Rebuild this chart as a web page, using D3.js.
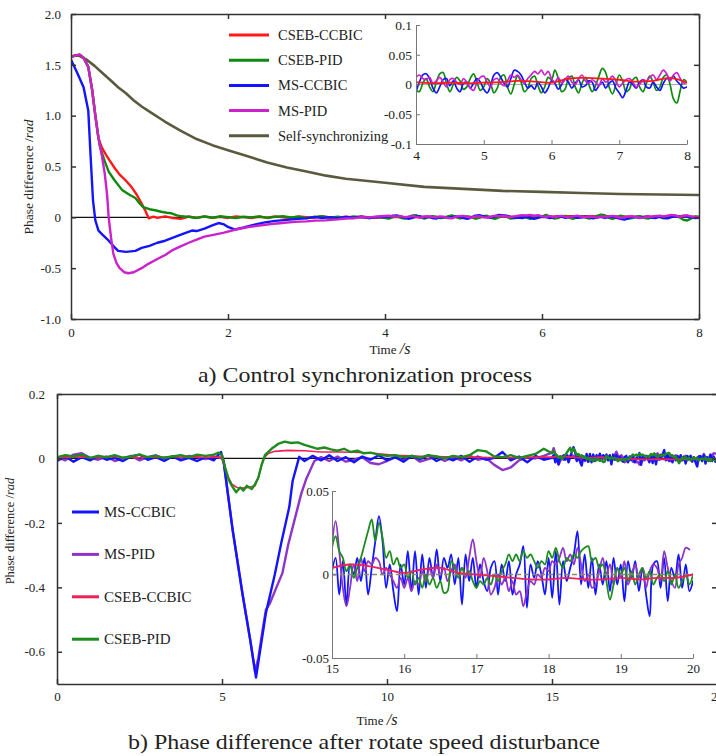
<!DOCTYPE html>
<html>
<head>
<meta charset="utf-8">
<style>
  body { margin: 0; background: #fff; }
  svg text { font-family: "Liberation Serif", "Times New Roman", serif; fill: #222; }
  .frame path, .frame line { stroke: #333; stroke-width: 1.5; }
  .inset path, .inset line { stroke: #777; stroke-width: 1; }
  .curve { fill: none; stroke-linejoin: round; stroke-linecap: round; }
</style>
</head>
<body>
<svg id="chart" width="716" height="756"></svg>
<script src="https://cdnjs.cloudflare.com/ajax/libs/d3/7.8.5/d3.min.js"></script>
<script>
// ---------------- data: panel a (control synchronization) ----------------
const aRed = [[0,1.58],[0.05,1.59],[0.11,1.6],[0.16,1.57],[0.22,1.48],[0.27,1.25],[0.31,1.0],[0.35,0.78],[0.39,0.69],[0.45,0.61],[0.5,0.55],[0.56,0.48],[0.62,0.42],[0.7,0.36],[0.77,0.3],[0.84,0.22],[0.9,0.135],[0.95,0.06],[0.99,-0.01],[1.05,0.006],[1.1,-0.006],[1.2,0.01],[1.3,-0.008],[1.4,-0.015],[1.5,0.008],[1.6,-0.005],[1.7,0.01],[1.8,-0.004],[1.9,0.006],[2.0,-0.006],[2.1,0.008],[2.2,0.002],[2.3,-0.006],[2.4,0.006],[2.5,-0.004],[2.6,0.01],[2.7,0.0],[2.8,-0.006],[2.9,0.008],[3.0,0.002],[3.1,-0.006],[3.2,0.012],[3.3,0.0],[3.4,-0.004],[3.5,0.006],[3.6,-0.002],[3.7,0.008],[3.8,0.0],[3.9,-0.004]];
const aGreen = [[0,1.58],[0.05,1.59],[0.11,1.6],[0.16,1.57],[0.22,1.48],[0.27,1.25],[0.31,1.0],[0.35,0.78],[0.37,0.69],[0.43,0.55],[0.48,0.45],[0.55,0.37],[0.65,0.27],[0.75,0.22],[0.82,0.19],[0.87,0.14],[0.92,0.1],[1.0,0.08],[1.07,0.07],[1.15,0.055],[1.22,0.045],[1.28,0.04],[1.35,0.02],[1.41,0.01],[1.5,0.005],[1.6,-0.006],[1.7,0.008],[1.8,-0.004],[1.9,0.01],[2.0,0.002],[2.1,-0.008],[2.2,0.006],[2.3,0.0],[2.4,0.01],[2.5,-0.006],[2.6,0.004],[2.7,0.012],[2.8,-0.002],[2.9,0.006],[3.0,-0.008],[3.1,0.004],[3.2,0.01],[3.3,-0.004],[3.4,0.006],[3.5,-0.006],[3.6,0.008],[3.7,0.0],[3.8,-0.008],[3.9,0.004]];
const aBlue = [[0,1.55],[0.08,1.42],[0.16,1.28],[0.22,1.05],[0.25,0.6],[0.28,0.17],[0.31,-0.03],[0.35,-0.13],[0.4,-0.17],[0.48,-0.23],[0.55,-0.29],[0.6,-0.33],[0.7,-0.34],[0.82,-0.33],[0.9,-0.3],[1.0,-0.28],[1.1,-0.25],[1.2,-0.23],[1.3,-0.2],[1.4,-0.17],[1.54,-0.13],[1.6,-0.135],[1.7,-0.11],[1.8,-0.08],[1.88,-0.056],[1.95,-0.07],[2.0,-0.095],[2.09,-0.12],[2.2,-0.1],[2.35,-0.07],[2.47,-0.05],[2.6,-0.035],[2.75,-0.025],[2.89,-0.015],[3.0,-0.01],[3.1,0.004],[3.2,-0.006],[3.3,0.002],[3.4,-0.008],[3.5,0.004],[3.6,-0.004],[3.7,0.006],[3.8,-0.006],[3.9,0.002]];
const aMagenta = [[0,1.58],[0.05,1.59],[0.11,1.6],[0.16,1.57],[0.22,1.48],[0.27,1.25],[0.31,1.0],[0.35,0.78],[0.39,0.62],[0.43,0.43],[0.46,0.22],[0.48,0.0],[0.51,-0.2],[0.54,-0.36],[0.58,-0.45],[0.62,-0.5],[0.68,-0.54],[0.73,-0.55],[0.8,-0.54],[0.9,-0.5],[0.98,-0.46],[1.1,-0.41],[1.2,-0.37],[1.3,-0.32],[1.41,-0.28],[1.5,-0.25],[1.6,-0.22],[1.7,-0.19],[1.83,-0.17],[1.95,-0.15],[2.1,-0.12],[2.26,-0.095],[2.4,-0.08],[2.55,-0.065],[2.69,-0.056],[2.85,-0.045],[3.0,-0.04],[3.12,-0.032],[3.24,-0.03],[3.4,-0.02],[3.5,-0.012],[3.6,-0.01],[3.7,0.002],[3.8,0.0],[3.9,0.008]];
const aSelf = [[0,1.58],[0.05,1.59],[0.1,1.59],[0.2,1.55],[0.3,1.49],[0.4,1.42],[0.5,1.35],[0.6,1.28],[0.7,1.22],[0.8,1.15],[0.9,1.09],[1.0,1.04],[1.2,0.94],[1.4,0.85],[1.6,0.77],[1.8,0.71],[2.0,0.66],[2.25,0.6],[2.5,0.54],[2.75,0.49],[3.0,0.45],[3.25,0.41],[3.5,0.38],[4.0,0.34],[4.5,0.3],[5.0,0.28],[5.5,0.26],[6.0,0.25],[6.5,0.24],[7.0,0.23],[7.5,0.225],[8.0,0.22]];

// inset of panel a, 4 - 8 s, 0.05 s apart (red 0.25 s apart)
const aInsetTime = d3.range(81).map(i => 4 + i * 0.05);
const aInsetRedTime = d3.range(17).map(i => 4 + i * 0.25);
const aInsetGreen = [-0.010,-0.012,0.002,0.010,-0.004,-0.012,0.004,0.018,0.020,0.002,
  -0.012,0.000,0.012,0.006,-0.008,-0.004,0.010,0.018,0.004,-0.010,
  -0.004,0.010,0.002,-0.014,-0.006,0.012,0.016,-0.004,-0.016,0.000,
  0.014,0.004,-0.012,-0.006,0.010,0.014,-0.002,-0.014,-0.004,0.012,
  0.008,0.024,0.010,-0.012,-0.008,0.010,0.014,-0.004,-0.014,0.002,
  0.012,0.000,-0.012,-0.002,0.014,0.027,0.020,-0.004,-0.016,0.000,
  0.016,0.006,-0.012,-0.008,0.008,0.012,-0.004,-0.012,0.002,0.014,
  0.004,-0.010,-0.004,0.012,0.016,0.000,-0.024,-0.031,-0.010,0.008,
  0.004];
const aInsetBlue = [-0.012,0.004,0.016,0.018,0.010,-0.006,-0.014,-0.004,0.008,0.010,
  -0.002,0.006,-0.006,-0.012,0.002,0.004,-0.006,0.002,0.010,0.004,
  -0.008,-0.014,-0.002,0.016,0.020,0.012,0.002,-0.004,0.010,0.024,
  0.022,0.016,0.004,-0.006,-0.002,-0.008,0.004,-0.004,-0.014,-0.006,
  0.006,0.002,-0.008,0.000,0.010,0.004,-0.006,0.002,0.008,-0.004,
  -0.002,0.006,0.004,-0.010,-0.002,0.004,-0.006,0.002,0.006,-0.006,
  -0.014,-0.022,-0.010,0.004,0.000,-0.006,0.004,0.008,-0.004,-0.006,
  0.004,-0.004,-0.010,0.002,0.010,0.008,0.014,0.006,0.000,-0.006,
  -0.004];
const aInsetMagenta = [0.012,0.016,0.010,0.008,0.012,0.002,0.006,0.012,0.004,-0.004,
  0.008,0.010,0.004,0.000,0.010,0.004,-0.006,-0.010,0.004,0.012,
  0.014,0.004,-0.004,0.008,0.010,0.002,-0.002,0.006,0.016,0.012,
  0.016,0.008,0.002,0.010,0.016,0.022,0.018,0.024,0.016,0.022,
  0.010,0.004,0.012,0.002,0.008,0.014,0.004,0.000,0.010,0.016,
  0.006,0.002,0.008,0.004,-0.002,0.010,0.004,0.008,0.014,0.006,
  -0.004,0.002,0.008,0.010,0.004,-0.004,0.000,0.008,0.006,0.012,
  0.016,0.008,0.016,0.024,0.018,0.006,0.016,0.020,0.010,0.002,
  0.004];
const aInsetRed = [0.004,0.002,0.003,0.002,0.003,0.004,0.006,0.005,0.003,0.010,0.011,0.010,0.008,0.005,0.006,0.011,0.003];

// ---------------- data: panel b (rotate speed disturbance) ----------------
const bPreTime = d3.range(20).map(i => i * 0.25);          // 0 - 4.75 s
const bPostTime = d3.range(19).map(i => 10.25 + i * 0.25); // 10.25 - 14.75 s
const bBluePre = [-0.008,0.006,-0.010,0.004,-0.006,0.008,-0.004,0.002,-0.008,0.006,0.012,-0.004,0.004,-0.008,0.006,-0.006,0.002,-0.008,0.004,-0.006];
const bPurplePre = [0.004,-0.006,0.012,0.016,0.002,-0.004,0.006,-0.008,0.000,0.008,-0.006,0.004,0.010,-0.002,0.006,0.000,0.008,0.004,-0.002,0.006];
const bGreenPre = [0.004,0.010,0.006,0.012,0.002,0.008,0.004,0.010,0.002,0.006,0.012,0.004,0.008,0.002,0.006,0.010,0.004,0.012,0.008,0.012];
const bRedPre = [0.002,0.004,0.003,0.005,0.002,0.004,0.003,0.006,0.003,0.004,0.002,0.005,0.003,0.004,0.006,0.003,0.004,0.005,0.003,0.004];

const bBlueDist = [[4.85,0.006],[4.97,0.02],[5.05,-0.01],[5.32,-0.22],[5.62,-0.42],[5.85,-0.56],[6.03,-0.68],[6.15,-0.6],[6.33,-0.48],[6.6,-0.36],[6.8,-0.26],[7.04,-0.15],[7.14,-0.07],[7.3,-0.01],[7.34,0.005],[7.5,-0.008],[7.75,0.008],[8,-0.006],[8.25,0.01],[8.5,-0.008],[8.75,0.004],[9,-0.012],[9.25,0.006],[9.5,-0.004],[9.75,0.01],[10,-0.006]];
const bPurpleDist = [[4.85,0.004],[5.0,0.0],[5.05,-0.01],[5.32,-0.22],[5.62,-0.42],[5.85,-0.56],[6.0,-0.66],[6.1,-0.62],[6.25,-0.52],[6.33,-0.47],[6.45,-0.45],[6.65,-0.4],[6.83,-0.356],[7.0,-0.27],[7.2,-0.19],[7.4,-0.11],[7.54,-0.067],[7.7,-0.03],[7.8,-0.008],[8,0.004],[8.25,-0.008],[8.5,0.006],[8.75,-0.01],[9,-0.004],[9.25,0.004],[9.5,-0.014],[9.75,-0.018],[10,-0.008]];
const bGreenDist = [[4.9,0.018],[5.0,0.01],[5.1,-0.03],[5.2,-0.065],[5.3,-0.085],[5.43,-0.105],[5.55,-0.09],[5.65,-0.1],[5.75,-0.085],[5.9,-0.095],[6.0,-0.08],[6.1,-0.06],[6.2,-0.02],[6.3,0.01],[6.5,0.03],[6.7,0.045],[6.9,0.052],[7.1,0.048],[7.3,0.05],[7.5,0.042],[7.7,0.036],[7.9,0.03],[8.1,0.034],[8.3,0.028],[8.5,0.024],[8.7,0.03],[8.9,0.02],[9.1,0.024],[9.3,0.016],[9.5,0.018],[9.75,0.012],[10.0,0.008]];
const bRedDist = [[4.98,0.004],[5.1,-0.03],[5.2,-0.06],[5.3,-0.08],[5.45,-0.09],[5.6,-0.092],[5.8,-0.09],[6.0,-0.085],[6.1,-0.06],[6.2,-0.02],[6.3,0.005],[6.4,0.015],[6.6,0.022],[7.0,0.025],[7.5,0.024],[8.0,0.02],[8.5,0.02],[9.0,0.019],[9.5,0.017],[10,0.012]];

const bBluePost = [0.004,-0.010,0.008,-0.002,0.010,-0.008,0.004,-0.006,0.008,-0.010,0.006,-0.004,0.002,0.020,-0.006,0.006,-0.012,0.008,-0.004];
const bPurplePost = [0.004,-0.006,0.008,-0.010,-0.002,0.006,-0.008,0.004,-0.006,0.010,-0.004,0.002,-0.020,-0.036,-0.028,-0.006,0.004,0.000,0.008];
const bGreenPost = [0.010,0.004,0.008,0.002,0.010,0.006,0.000,0.008,0.004,0.010,0.026,0.022,0.006,0.004,0.010,0.002,0.008,0.014,0.030];
const bRedPost = [0.010,0.009,0.008,0.007,0.006,0.006,0.005,0.005,0.004,0.004,0.004,0.003,0.003,0.003,0.002,0.003,0.003,0.004,0.004];

// inset of panel b, 15 - 20 s, 0.05 s apart (red 0.25 s apart)
const bInsetTime = d3.range(101).map(i => 15 + i * 0.05);
const bInsetRedTime = d3.range(21).map(i => 15 + i * 0.25);
const bInsetBlue = [0.002,0.010,-0.012,0.008,-0.018,0.006,0.000,0.010,-0.004,0.010,
  -0.012,0.004,0.020,0.035,0.020,-0.008,0.006,-0.010,-0.022,0.006,
  -0.006,0.014,-0.010,0.014,-0.012,0.012,-0.008,0.010,-0.002,0.015,
  -0.004,0.010,0.004,0.012,-0.006,0.010,-0.018,0.012,-0.004,0.010,
  -0.008,0.006,-0.004,-0.010,0.004,0.008,-0.012,0.006,-0.004,0.008,
  -0.012,0.000,0.006,0.017,-0.020,0.006,-0.002,0.008,0.000,-0.012,
  0.010,-0.014,0.014,-0.018,0.008,-0.004,0.004,0.012,0.026,-0.006,
  0.012,-0.008,0.010,-0.012,0.006,-0.006,0.008,-0.010,0.010,-0.006,
  0.006,-0.016,0.008,-0.002,0.008,-0.010,0.004,-0.012,-0.025,0.006,
  0.008,-0.008,0.010,-0.016,0.004,-0.002,0.012,-0.008,0.006,-0.010,
  -0.004];
const bInsetGreen = [0.016,0.023,0.014,0.010,0.002,0.006,-0.002,0.004,0.010,0.018,
  0.026,0.033,0.020,0.031,0.022,0.010,0.014,0.006,0.010,0.004,
  0.006,-0.002,0.002,-0.006,-0.002,-0.008,0.000,-0.006,-0.002,-0.008,
  -0.004,-0.011,-0.010,0.008,0.004,-0.002,0.004,0.000,0.002,-0.004,
  -0.008,-0.004,-0.006,-0.002,-0.006,0.000,-0.004,0.002,0.006,0.012,
  0.008,0.012,0.008,0.014,0.010,0.012,0.008,0.004,0.008,0.006,
  0.014,0.010,0.016,0.008,0.004,0.010,0.008,0.012,0.010,0.014,
  0.016,0.017,0.008,0.010,0.004,0.006,-0.004,-0.015,-0.006,0.004,
  0.000,0.004,-0.004,0.002,-0.006,0.000,0.004,-0.002,0.002,-0.006,
  -0.002,0.000,-0.004,0.002,-0.006,0.000,-0.008,-0.004,0.000,-0.006,
  0.000];
const bInsetPurple = [0.018,0.032,0.014,-0.008,-0.019,-0.008,0.006,-0.004,0.010,0.002,
  0.008,0.006,0.010,0.008,0.000,0.004,0.000,-0.004,-0.008,-0.002,
  -0.008,-0.002,-0.010,-0.004,-0.006,0.002,-0.004,0.004,-0.002,0.006,
  0.000,0.004,-0.004,0.002,0.006,0.000,0.004,-0.002,0.010,0.021,
  0.008,-0.002,0.010,0.002,-0.012,-0.008,0.000,-0.006,-0.002,-0.010,
  -0.004,-0.012,-0.010,-0.019,-0.010,-0.004,-0.006,0.000,-0.002,0.004,
  0.002,0.008,0.006,0.010,0.016,0.008,0.012,0.006,0.016,0.006,
  -0.004,0.000,-0.008,-0.006,0.002,0.010,0.000,0.006,-0.006,0.004,
  -0.002,0.008,-0.006,0.000,0.006,-0.002,0.004,-0.008,0.002,0.006,
  0.004,-0.004,0.014,0.004,-0.004,-0.008,0.006,0.010,0.016,0.015];
const bInsetRed = [0.004,0.006,0.005,0.003,0.001,0.003,0.004,0.001,0.000,-0.001,-0.002,-0.003,-0.003,-0.002,-0.003,-0.003,-0.002,-0.003,-0.002,-0.002,0.000];

// ---------------- ticks / labels ----------------
const aXTicks = [0, 2, 4, 6, 8];
const aYTicks = [-1, -0.5, 0, 0.5, 1, 1.5, 2];
const aInsetXTicks = [4, 5, 6, 7, 8];
const aInsetYTicks = [-0.1, -0.05, 0, 0.05, 0.1];
const bXTicks = [0, 5, 10, 15, 20];
const bYTicks = [-0.6, -0.4, -0.2, 0, 0.2];
const bInsetXTicks = [15, 16, 17, 18, 19, 20];
const bInsetYTicks = [-0.05, 0, 0.05];

const aLegend = ["CSEB-CCBIC", "CSEB-PID", "MS-CCBIC", "MS-PID", "Self-synchronizing"];
const aColors = ["#ff1a1a", "#0e8a0e", "#1414ff", "#cc22cc", "#5a5a3e"];
const bLegend = ["MS-CCBIC", "MS-PID", "CSEB-CCBIC", "CSEB-PID"];
const bColors = ["#1414ff", "#8e35c8", "#f0205a", "#1e8c1e"];

const zip = (ts, vs) => vs.map((v, i) => [ts[i], v]);
const serif = '"Liberation Serif", "Times New Roman", serif';
const svg = d3.select("#chart");

const fmtA = d => d === 0 ? "0" : d.toFixed(1);
const fmtPlain = d => String(d);

// box with inward ticks on all four sides
function mainFrame(x, y, xTicks, yTicks, xFmt, yFmt, font, padX, padY) {
  const [x0, x1] = x.range(), [y0, y1] = y.range();
  const g = svg.append("g").attr("class", "frame");
  g.append("g").attr("transform", `translate(0,${y0})`)
    .call(d3.axisBottom(x).tickValues(xTicks).tickFormat(xFmt).tickSize(-5).tickSizeOuter(0).tickPadding(padX));
  g.append("g").attr("transform", `translate(0,${y1})`)
    .call(d3.axisTop(x).tickValues(xTicks).tickFormat(() => "").tickSize(-5).tickSizeOuter(0));
  g.append("g").attr("transform", `translate(${x0},0)`)
    .call(d3.axisLeft(y).tickValues(yTicks).tickFormat(yFmt).tickSize(-5).tickSizeOuter(0).tickPadding(padY));
  g.append("g").attr("transform", `translate(${x1},0)`)
    .call(d3.axisRight(y).tickValues(yTicks).tickFormat(() => "").tickSize(-5).tickSizeOuter(0));
  g.selectAll(":scope > g").attr("font-family", serif).attr("font-size", font);
}

// left + bottom axes only, for the zoomed insets
function insetFrame(x, y, xTicks, yTicks, xFmt, yFmt, font, padX, padY) {
  const g = svg.append("g").attr("class", "inset");
  g.append("g").attr("transform", `translate(0,${y.range()[0]})`)
    .call(d3.axisBottom(x).tickValues(xTicks).tickFormat(xFmt).tickSize(-4).tickSizeOuter(0).tickPadding(padX));
  g.append("g").attr("transform", `translate(${x.range()[0]},0)`)
    .call(d3.axisLeft(y).tickValues(yTicks).tickFormat(yFmt).tickSize(-4).tickSizeOuter(0).tickPadding(padY));
  g.selectAll(":scope > g").attr("font-family", serif).attr("font-size", font);
}

function clipRect(id, x, y) {
  const [x0, x1] = x.range(), [y0, y1] = y.range();
  svg.append("clipPath").attr("id", id).append("rect")
    .attr("x", x0).attr("y", y1).attr("width", x1 - x0).attr("height", y0 - y1);
  return `url(#${id})`;
}

function drawCurve(g, data, x, y, color, width, curve) {
  const line = d3.line().x(d => x(d[0])).y(d => y(d[1])).curve(curve || d3.curveLinear);
  g.append("path").attr("class", "curve").attr("d", line(data))
    .attr("stroke", color).attr("stroke-width", width);
}

function yTitle(cx, cy, size) {
  const t = svg.append("text").attr("transform", `translate(${cx},${cy}) rotate(-90)`)
    .attr("text-anchor", "middle").attr("font-size", size);
  t.append("tspan").text("Phase difference /");
  t.append("tspan").attr("font-style", "italic").text("rad");
}

function xTitle(cx, by, size) {
  const t = svg.append("text").attr("x", cx).attr("y", by)
    .attr("text-anchor", "middle").attr("font-size", size);
  t.append("tspan").text("Time ");
  t.append("tspan").attr("font-style", "italic").attr("font-size", size * 1.25).text("/s");
}

function caption(cx, by, label, width) {
  svg.append("text").attr("x", cx).attr("y", by).attr("text-anchor", "middle")
    .attr("font-size", 21).attr("textLength", width).attr("lengthAdjust", "spacingAndGlyphs")
    .text(label);
}

// ================= panel a =================
const xA = d3.scaleLinear().domain([0, 8]).range([71, 699]);
const yA = d3.scaleLinear().domain([-1, 2]).range([319, 14]);
const gA = svg.append("g").attr("clip-path", clipRect("clipA", xA, yA));
gA.append("line").attr("x1", xA(0)).attr("x2", xA(8)).attr("y1", yA(0)).attr("y2", yA(0))
  .attr("stroke", "#111").attr("stroke-width", 1.2);

const aSeries = [
  aRed.concat(zip(aInsetRedTime, aInsetRed)),
  aGreen.concat(zip(aInsetTime, aInsetGreen).slice(1)),
  aBlue.concat(zip(aInsetTime, aInsetBlue).slice(1)),
  aMagenta.concat(zip(aInsetTime, aInsetMagenta).slice(1)),
  aSelf
];
drawCurve(gA, aSeries[4], xA, yA, aColors[4], 2.6);
[0, 1, 2, 3].forEach(i => drawCurve(gA, aSeries[i], xA, yA, aColors[i], 2.4));

mainFrame(xA, yA, aXTicks, aYTicks, fmtPlain, fmtA, 13, 9, 10);

// legend a
const legA = svg.append("g");
aLegend.forEach((name, i) => {
  const yy = 35 + i * 25.2;
  legA.append("line").attr("x1", 229).attr("x2", 269).attr("y1", yy).attr("y2", yy)
    .attr("stroke", aColors[i]).attr("stroke-width", 3);
  legA.append("text").attr("x", 278).attr("y", yy + 5).attr("font-size", 14.5).text(name);
});

// inset a
const xAi = d3.scaleLinear().domain([4, 8]).range([416, 687]);
const yAi = d3.scaleLinear().domain([-0.1, 0.1]).range([144, 25]);
const gAi = svg.append("g").attr("clip-path", clipRect("clipAi", xAi, yAi));
gAi.append("line").attr("x1", xAi(4)).attr("x2", xAi(8)).attr("y1", yAi(0)).attr("y2", yAi(0))
  .attr("stroke", "#aaa").attr("stroke-width", 1);
const cr = d3.curveCatmullRom.alpha(0.5);
drawCurve(gAi, zip(aInsetTime, aInsetGreen), xAi, yAi, aColors[1], 1.7, cr);
drawCurve(gAi, zip(aInsetTime, aInsetBlue), xAi, yAi, aColors[2], 1.7, cr);
drawCurve(gAi, zip(aInsetTime, aInsetMagenta), xAi, yAi, aColors[3], 1.7, cr);
drawCurve(gAi, zip(aInsetRedTime, aInsetRed), xAi, yAi, aColors[0], 1.8, cr);
insetFrame(xAi, yAi, aInsetXTicks, aInsetYTicks, fmtPlain, fmtPlain, 13.5, 6, 4);

yTitle(33, 177, 13.5);
xTitle(390, 354, 13);
caption(365, 382, "a) Control synchronization process", 334);

// ================= panel b =================
const xB = d3.scaleLinear().domain([0, 20]).range([57, 717]);
const yB = d3.scaleLinear().domain([-0.7, 0.2]).range([684, 394]);
const gB = svg.append("g").attr("clip-path", clipRect("clipB", xB, yB));
gB.append("line").attr("x1", xB(0)).attr("x2", xB(20)).attr("y1", yB(0)).attr("y2", yB(0))
  .attr("stroke", "#111").attr("stroke-width", 1.2);

const bBlue = zip(bPreTime, bBluePre).concat(bBlueDist, zip(bPostTime, bBluePost), zip(bInsetTime, bInsetBlue));
const bPurple = zip(bPreTime, bPurplePre).concat(bPurpleDist, zip(bPostTime, bPurplePost), zip(bInsetTime, bInsetPurple));
const bRed = zip(bPreTime, bRedPre).concat(bRedDist, zip(bPostTime, bRedPost), zip(bInsetRedTime, bInsetRed));
const bGreen = zip(bPreTime, bGreenPre).concat(bGreenDist, zip(bPostTime, bGreenPost), zip(bInsetTime, bInsetGreen));
drawCurve(gB, bPurple, xB, yB, bColors[1], 2.4);
drawCurve(gB, bBlue, xB, yB, bColors[0], 2.4);
drawCurve(gB, bRed, xB, yB, bColors[2], 1.6);
drawCurve(gB, bGreen, xB, yB, bColors[3], 2.4);

mainFrame(xB, yB, bXTicks, bYTicks, fmtPlain, fmtPlain, 13, 8, 12);

// legend b
const legB = svg.append("g");
bLegend.forEach((name, i) => {
  const yy = 512 + i * 42.4;
  legB.append("line").attr("x1", 72).attr("x2", 99).attr("y1", yy).attr("y2", yy)
    .attr("stroke", bColors[i]).attr("stroke-width", 3);
  legB.append("text").attr("x", 104).attr("y", yy + 5).attr("font-size", 15).text(name);
});

// inset b
const xBi = d3.scaleLinear().domain([15, 20]).range([332, 693]);
const yBi = d3.scaleLinear().domain([-0.05, 0.05]).range([658, 491]);
const gBi = svg.append("g").attr("clip-path", clipRect("clipBi", xBi, yBi));
drawCurve(gBi, zip(bInsetTime, bInsetBlue), xBi, yBi, bColors[0], 1.8, cr);
drawCurve(gBi, zip(bInsetTime, bInsetPurple), xBi, yBi, bColors[1], 1.8, cr);
drawCurve(gBi, zip(bInsetTime, bInsetGreen), xBi, yBi, bColors[3], 1.8, cr);
gBi.append("line").attr("x1", xBi(15)).attr("x2", xBi(20)).attr("y1", yBi(0)).attr("y2", yBi(0))
  .attr("stroke", "#8a8a6a").attr("stroke-width", 1.3).attr("stroke-dasharray", "5,3");
drawCurve(gBi, zip(bInsetRedTime, bInsetRed), xBi, yBi, bColors[2], 1.8, cr);
insetFrame(xBi, yBi, bInsetXTicks, bInsetYTicks, fmtPlain, fmtPlain, 13, 6, 3);

yTitle(14, 531, 12.5);
xTitle(377, 725, 13);
caption(364, 749, "b) Phase difference after rotate speed disturbance", 472);
</script>
</body>
</html>
